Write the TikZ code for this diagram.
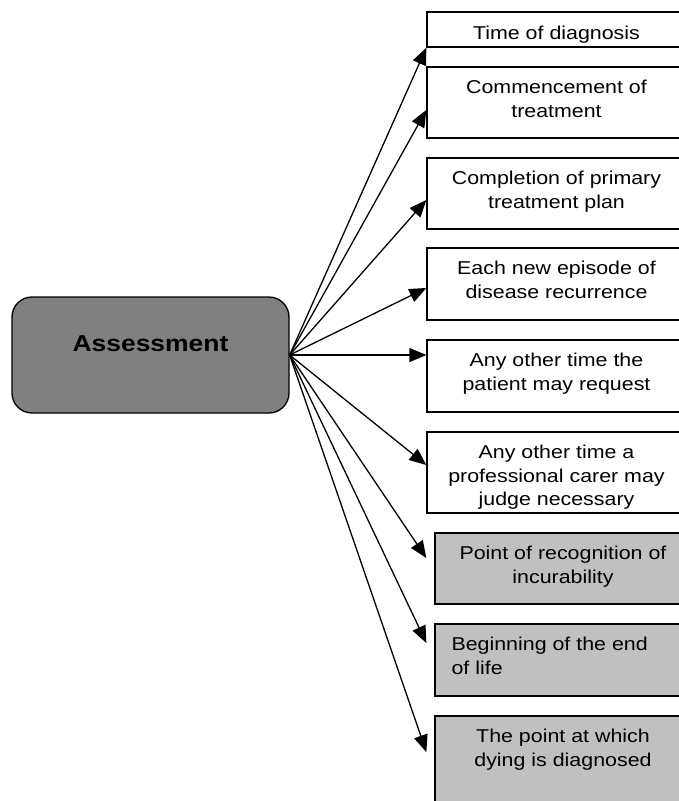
\documentclass[tikz,border=0pt]{standalone}
\usepackage{fontspec}
\setmainfont{Liberation Sans}
\newfontfamily\boxfont[FakeStretch=1.15]{Liberation Sans}
\usetikzlibrary{arrows.meta, positioning}
\definecolor{darkfill}{HTML}{808080}
\definecolor{lightfill}{HTML}{C0C0C0}

\begin{document}
\begin{tikzpicture}[x=1pt, y=-1pt,
  hub/.style={draw, line width=1.3pt, fill=darkfill, rounded corners=20pt,
    minimum width=277pt, minimum height=116pt,
    font=\boxfont\bfseries\fontsize{23}{27}\selectfont},
  box/.style={draw, line width=1.3pt, fill=white, minimum width=259pt, inner sep=0pt},
  greybox/.style={box, fill=lightfill, minimum width=256pt},
  boxtext/.style={anchor=base, inner sep=0pt, font=\boxfont\fontsize{18.6}{23.5}\selectfont},
  link/.style={line width=1.3pt, -{Triangle[length=17pt, width=14pt]}}]
  \useasboundingbox (0,0) rectangle (679,801);
  \clip (0,0) rectangle (679,801);

  \node[hub] (assess) at (150.5,355) {\raisebox{4pt}[0pt][0pt]{Assessment}};

  \node[box, minimum height=35pt] (diag) at (556.5,29.5) {};
  \node[box, minimum height=71pt] (start) at (556.5,102.5) {};
  \node[box, minimum height=71pt] (plan) at (556.5,193.5) {};
  \node[box, minimum height=72pt] (recur) at (556.5,284) {};
  \node[box, minimum height=72pt] (patient) at (556.5,376) {};
  \node[box, minimum height=81pt] (carer) at (556.5,472.5) {};
  \node[greybox, minimum height=71pt] (incur) at (563,568.5) {};
  \node[greybox, minimum height=72pt] (endlife) at (563,660) {};
  \node[greybox, minimum height=90pt] (dying) at (563,761) {};

  \node[boxtext] (diagtxt) at ([yshift=-28.5pt]diag.north) {\parbox[t]{250pt}{\centering Time of diagnosis}};
  \node[boxtext] (starttxt) at ([yshift=-27.5pt]start.north) {\parbox[t]{250pt}{\centering Commencement of\\treatment}};
  \node[boxtext] (plantxt) at ([yshift=-27.5pt]plan.north) {\parbox[t]{250pt}{\centering Completion of primary\\treatment plan}};
  \node[boxtext] (recurtxt) at ([yshift=-27.5pt]recur.north) {\parbox[t]{250pt}{\centering Each new episode of\\disease recurrence}};
  \node[boxtext] (patienttxt) at ([yshift=-27.5pt]patient.north) {\parbox[t]{250pt}{\centering Any other time the\\patient may request}};
  \node[boxtext] (carertxt) at ([yshift=-27.5pt]carer.north) {\parbox[t]{250pt}{\centering Any other time a\\professional carer may\\judge necessary}};
  \node[boxtext] (incurtxt) at ([yshift=-27.5pt]incur.north) {\parbox[t]{250pt}{\centering Point of recognition of\\incurability}};
  \node[boxtext, anchor=base west] (endlifetxt) at ([xshift=17pt, yshift=-27.5pt]endlife.north west) {\parbox[t]{230pt}{\raggedright Beginning of the end\\of life}};
  \node[boxtext] (dyingtxt) at ([yshift=-27.5pt]dying.north) {\parbox[t]{250pt}{\centering The point at which\\dying is diagnosed}};

  \draw[link] (assess.east) -- (diag.south west);
  \draw[link] (assess.east) -- ([yshift=-7.5pt]start.west);
  \draw[link] (assess.east) -- ([yshift=-6.5pt]plan.west);
  \draw[link] (assess.east) -- ([yshift=-4pt]recur.west);
  \draw[link] (assess.east) -- (assess.east -| patient.west);
  \draw[link] (assess.east) -- ([yshift=7.5pt]carer.west);
  \draw[link] (assess.east) -- ([xshift=-8pt, yshift=10.5pt]incur.west);
  \draw[link] (assess.east) -- ([xshift=-8pt, yshift=17pt]endlife.west);
  \draw[link] (assess.east) -- ([xshift=-8pt, yshift=9pt]dying.west);
\end{tikzpicture}
\end{document}
